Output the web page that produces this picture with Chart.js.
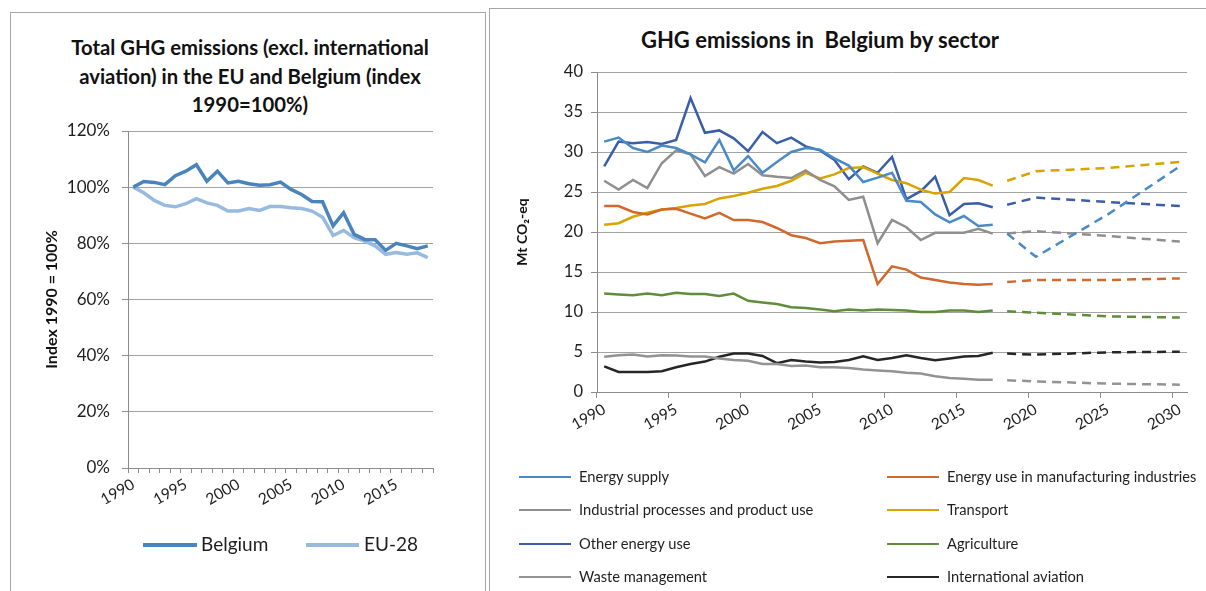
<!DOCTYPE html>
<html>
<head>
<meta charset="utf-8">
<script src="https://cdn.jsdelivr.net/npm/chart.js@4.4.0/dist/chart.umd.min.js"></script>
<style>
body { margin: 0; background: #fff; font-family: Lato, 'Liberation Sans', sans-serif; color: #1e1e1e; }
.frame { position: absolute; border: 1px solid #a6a6a6; }
canvas { position: absolute; }
.title { position: absolute; font-weight: bold; text-align: center; color: #111; }
</style>
</head>
<body>
<div class="frame" style="left:10px;top:12px;width:474px;height:620px"></div>
<div class="frame" style="left:489px;top:8px;width:760px;height:620px"></div>
<div class="title" style="left:0px;top:33px;width:500px;font-size:20.3px;line-height:28.5px">Total GHG emissions (excl. international<br>aviation) in the EU and Belgium (index<br>1990=100%)</div>
<div class="title" style="left:570px;top:27px;width:500px;font-size:22px;line-height:26px">GHG emissions in&nbsp; Belgium by sector</div>
<canvas id="chartL" width="475" height="579" style="left:10px;top:12px"></canvas>
<canvas id="chartR" width="717" height="583" style="left:489px;top:8px"></canvas>
<div id="legend"></div>
<script>
// left chart: index 1990 = 100
let yearsL = ['1990','1991','1992','1993','1994','1995','1996','1997','1998','1999',
  '2000','2001','2002','2003','2004','2005','2006','2007','2008','2009',
  '2010','2011','2012','2013','2014','2015','2016','2017','2018'];
let belgium = [100, 102.0, 101.7, 100.9, 104.1, 105.7, 108.0, 102.1, 105.7, 101.5,
  102.1, 101.2, 100.7, 100.9, 101.8, 99.2, 97.4, 94.9, 94.8, 86.2,
  90.9, 83.2, 81.4, 81.3, 77.5, 80.0, 79.1, 78.1, 79.1];
let eu28 = [100, 98.0, 95.3, 93.5, 93.0, 94.1, 95.9, 94.4, 93.5, 91.5,
  91.5, 92.4, 91.7, 93.1, 93.1, 92.7, 92.4, 91.5, 89.3, 82.8,
  84.6, 82.0, 80.8, 79.1, 76.1, 76.7, 76.1, 76.6, 74.9];
let namesL = ['Belgium', 'EU-28'];
let colorsL = ['#4a84bc', '#98badf'];

// right chart: Mt CO2-eq by sector
let yearsR = ['1990','1991','1992','1993','1994','1995','1996','1997','1998','1999',
  '2000','2001','2002','2003','2004','2005','2006','2007','2008','2009',
  '2010','2011','2012','2013','2014','2015','2016','2017','2018','2019',
  '2020','2021','2022','2023','2024','2025','2026','2027','2028','2029','2030'];
let projYears = ['2018', '2020', '2025', '2030'];

let energySupply = [31.3, 31.8, 30.5, 30.0, 30.8, 30.5, 29.7, 28.7, 31.5, 27.7, 29.5, 27.4, 28.75, 30.0,
  30.5, 30.3, 29.2, 28.3, 26.25, 26.8, 27.4, 23.9, 23.75, 22.2, 21.2, 22.0, 20.75, 20.9];
let manufacturing = [23.25, 23.25, 22.5, 22.2, 22.8, 22.9, 22.3, 21.7, 22.4, 21.5, 21.5, 21.25, 20.5, 19.6,
  19.25, 18.6, 18.8, 18.9, 19.0, 13.5, 15.7, 15.3, 14.3, 14.0, 13.7, 13.5, 13.4, 13.5];
let industrial = [26.4, 25.3, 26.5, 25.5, 28.6, 30.2, 29.7, 27.0, 28.1, 27.3, 28.5, 27.1, 26.9, 26.75,
  27.7, 26.5, 25.7, 24.0, 24.4, 18.6, 21.5, 20.6, 19.0, 19.9, 19.9, 19.9, 20.4, 19.8];
let transport = [20.9, 21.1, 21.9, 22.4, 22.8, 23.0, 23.3, 23.5, 24.2, 24.5, 24.9, 25.4, 25.75, 26.4,
  27.4, 26.7, 27.2, 28.0, 28.1, 27.3, 26.5, 26.1, 25.3, 24.8, 25.0, 26.75, 26.5, 25.8];
let otherEnergy = [28.2, 31.3, 31.1, 31.25, 31.0, 31.5, 36.75, 32.4, 32.7, 31.7, 30.1, 32.5, 31.1, 31.8,
  30.7, 30.2, 29.0, 26.6, 28.2, 27.4, 29.4, 24.1, 25.1, 26.9, 22.1, 23.5, 23.6, 23.1];
let agriculture = [12.3, 12.2, 12.1, 12.3, 12.1, 12.4, 12.25, 12.25, 12.0, 12.3, 11.4, 11.2, 11.0, 10.6,
  10.5, 10.3, 10.1, 10.3, 10.2, 10.3, 10.25, 10.2, 10.0, 10.0, 10.2, 10.2, 10.0, 10.2];
let waste = [4.4, 4.6, 4.7, 4.45, 4.6, 4.55, 4.45, 4.45, 4.2, 4.0, 3.9, 3.5, 3.5, 3.25,
  3.3, 3.1, 3.1, 3.0, 2.8, 2.7, 2.6, 2.4, 2.3, 1.96, 1.75, 1.67, 1.54, 1.54];
let aviation = [3.2, 2.5, 2.5, 2.5, 2.6, 3.1, 3.5, 3.8, 4.4, 4.8, 4.8, 4.5, 3.6, 4.0,
  3.8, 3.7, 3.75, 4.0, 4.45, 4.0, 4.25, 4.6, 4.25, 3.96, 4.2, 4.45, 4.5, 4.9];

// projections at 2018, 2020, 2025, 2030
let energySupplyProj = [19.8, 16.9, 22.2, 28.2];
let manufacturingProj = [13.75, 14.0, 14.0, 14.2];
let industrialProj = [19.8, 20.1, 19.5, 18.8];
let transportProj = [26.4, 27.6, 28.0, 28.75];
let otherEnergyProj = [23.4, 24.3, 23.75, 23.25];
let agricultureProj = [10.1, 9.9, 9.45, 9.3];
let wasteProj = [1.46, 1.33, 1.04, 0.92];
let aviationProj = [4.8, 4.67, 4.96, 5.04];

let sectors = ['Energy supply', 'Energy use in manufacturing industries', 'Industrial processes and product use',
  'Transport', 'Other energy use', 'Agriculture', 'Waste management', 'International aviation'];
let sectorColors = ['#4a8ac6', '#d0692b', '#8f8f8f', '#d9a300', '#3a5fa8', '#5e8e3a', '#939393', '#262626'];
let history = [energySupply, manufacturing, industrial, transport, otherEnergy, agriculture, waste, aviation];
let projections = [energySupplyProj, manufacturingProj, industrialProj, transportProj,
  otherEnergyProj, agricultureProj, wasteProj, aviationProj];

Chart.defaults.font.family = "Lato, 'Liberation Sans', sans-serif";
Chart.defaults.color = '#1e1e1e';
let gridGray = '#a3a3a3';
let axisGray = '#8c8c8c';

// ---- left chart
new Chart(document.getElementById('chartL'), {
  type: 'line',
  data: {
    labels: yearsL,
    datasets: [
      { label: namesL[0], data: belgium, borderColor: colorsL[0], borderWidth: 3.5 },
      { label: namesL[1], data: eu28, borderColor: colorsL[1], borderWidth: 3.5 }
    ]
  },
  options: {
    responsive: false,
    animation: false,
    devicePixelRatio: 1,
    elements: { point: { radius: 0 }, line: { tension: 0, fill: false } },
    layout: { padding: { left: 0, right: 52, top: 119, bottom: 63 } },
    plugins: { legend: { display: false }, title: { display: false }, tooltip: { enabled: false } },
    scales: {
      x: {
        offset: true,
        grid: { offset: true, drawOnChartArea: false, tickLength: 5, tickColor: axisGray },
        border: { color: axisGray },
        ticks: {
          autoSkip: false, minRotation: 30, maxRotation: 30, padding: 2,
          font: { size: 15.5 },
          callback: (v, i) => (Number(yearsL[i]) % 5 === 0 ? yearsL[i] : '')
        },
        afterFit: s => { s.height = 60; }
      },
      y: {
        min: 0, max: 120,
        grid: { color: gridGray, tickLength: 6, tickColor: axisGray },
        border: { color: axisGray },
        ticks: { stepSize: 20, padding: 12, font: { size: 17 }, callback: v => v + '%' },
        title: { display: true, text: 'Index 1990 = 100%', font: { size: 16, weight: 'bold' },
          color: '#111', padding: { top: 32, bottom: 0 } },
        afterFit: s => { s.width = 118; }
      }
    }
  }
});

// ---- right chart
let datasetsR = [];
history.forEach((vals, k) => {
  datasetsR.push({ label: sectors[k], data: vals, borderColor: sectorColors[k], borderWidth: 2.5 });
});
projections.forEach((vals, k) => {
  datasetsR.push({
    label: sectors[k] + ' (projection)',
    data: vals.map((v, j) => ({ x: projYears[j], y: v })),
    borderColor: sectorColors[k], borderWidth: 2.5, borderDash: [9, 6]
  });
});

new Chart(document.getElementById('chartR'), {
  type: 'line',
  data: { labels: yearsR, datasets: datasetsR },
  options: {
    responsive: false,
    animation: false,
    devicePixelRatio: 1,
    elements: { point: { radius: 0 }, line: { tension: 0, fill: false } },
    layout: { padding: { left: 0, right: 19, top: 64, bottom: 139 } },
    plugins: { legend: { display: false }, title: { display: false }, tooltip: { enabled: false } },
    scales: {
      x: {
        offset: true,
        grid: {
          offset: true, drawOnChartArea: false, tickLength: 6,
          tickColor: ctx => (ctx.tick && Number(yearsR[ctx.index]) % 5 === 0 ? axisGray : 'rgba(0,0,0,0)')
        },
        border: { color: axisGray },
        ticks: {
          autoSkip: false, minRotation: 30, maxRotation: 30, padding: 2,
          font: { size: 15.5 },
          callback: (v, i) => (Number(yearsR[i]) % 5 === 0 ? yearsR[i] : '')
        },
        afterFit: s => { s.height = 60; }
      },
      y: {
        min: 0, max: 40,
        grid: { color: gridGray, tickLength: 6, tickColor: axisGray },
        border: { color: axisGray },
        ticks: { stepSize: 5, padding: 8, font: { size: 16.5 } },
        title: { display: true, text: 'Mt CO\u2082-eq', font: { size: 14, weight: 'bold' },
          color: '#111', padding: { top: 25, bottom: 0 } },
        afterFit: s => { s.width = 108; }
      }
    }
  }
});

// ---- legends (html)
let legend = document.getElementById('legend');
function legendItem(x, y, len, thick, color, text, size, gap) {
  let line = document.createElement('div');
  line.style.cssText = 'position:absolute;left:' + x + 'px;top:' + (y - thick / 2) + 'px;width:' + len +
    'px;height:' + thick + 'px;background:' + color;
  let lab = document.createElement('div');
  lab.textContent = text;
  lab.style.cssText = 'position:absolute;white-space:nowrap;left:' + (x + len + gap) + 'px;top:' +
    (y - size * 0.62) + 'px;font-size:' + size + 'px;line-height:' + (size * 1.2) + 'px';
  legend.appendChild(line);
  legend.appendChild(lab);
}
legendItem(143, 545, 54, 3.5, colorsL[0], namesL[0], 19, 4);
legendItem(306, 545, 53, 3.5, colorsL[1], namesL[1], 19, 5);

let legCols = [519, 887];
let legRows = [477, 510, 544, 577];
sectors.forEach((name, k) => {
  legendItem(legCols[k % 2], legRows[Math.floor(k / 2)], 52, 2.5, sectorColors[k], name, 14.7, 8);
});
</script>
</body>
</html>
